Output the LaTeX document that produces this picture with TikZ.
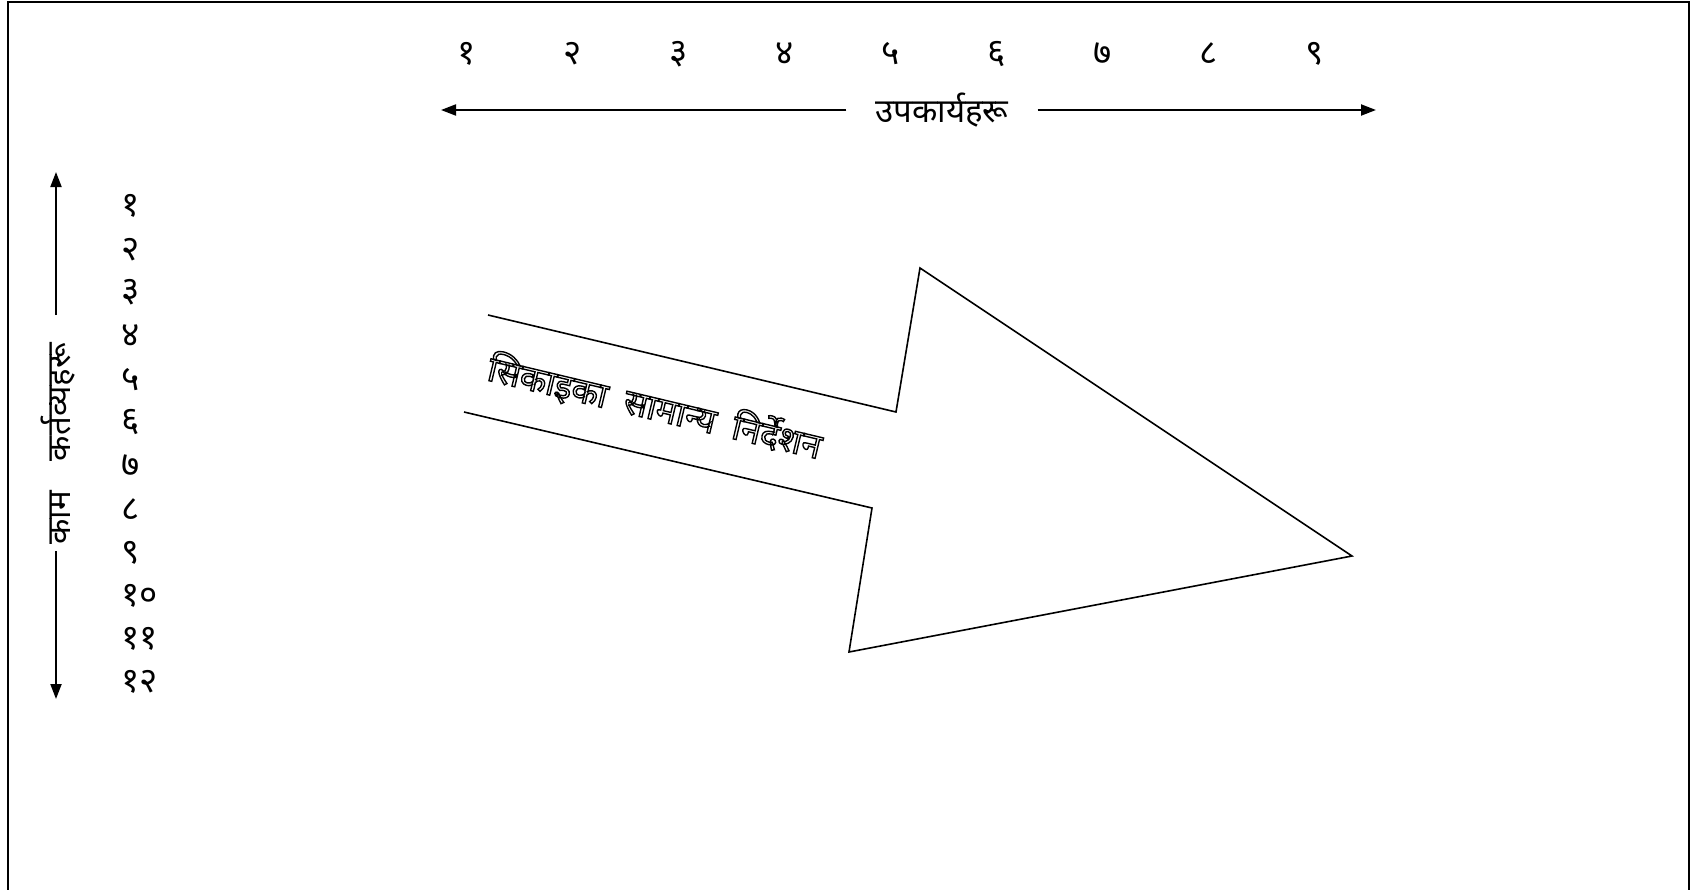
\documentclass[tikz,border=0pt]{standalone}
\usepackage{fontspec}
\newfontfamily\dev[Script=Devanagari]{Noto Sans}
\usetikzlibrary{arrows.meta}
\begin{document}
\begin{tikzpicture}[x=1pt,y=-1pt,
  lbl/.style={font=\dev\fontsize{35}{40}\selectfont, inner sep=0pt},
  title/.style={font=\dev\fontsize{33}{38}\selectfont, inner sep=0pt},
  axis/.style={line width=2pt, -{Triangle[length=15pt,width=11pt]}},
  bigarrow/.style={line width=1.6pt, line join=miter},
  frame/.style={line width=2.5pt}]
\useasboundingbox (0,0) rectangle (1692,889);
\fill[white] (0,0) rectangle (1692,889);
\begin{scope}
\clip (0,0) rectangle (1692,889);
\draw[frame] (8,2) rectangle (1689,920);
\end{scope}
% top numbers
\foreach \d [count=\i] in {१,२,३,४,५,६,७,८,९}
  \node[lbl] (t\i) at ({467+106*(\i-1)},54) {\d};
% horizontal axis
\node[title, inner xsep=29pt] (sub) at (942,110) {उपकार्यहरू};
\coordinate (hl) at (441,110);
\coordinate (hr) at (1376,110);
\draw[axis] (sub.west) -- (hl);
\draw[axis] (sub.east) -- (hr);
% vertical axis
\node[title, rotate=90] (duty) at (58,444) {काम\hspace{30pt}कर्तव्यहरू};
\coordinate (du) at (56,315);
\coordinate (dd) at (56,551);
\coordinate (vt) at (56,172);
\coordinate (vb) at (56,699);
\draw[axis] (du) -- (vt);
\draw[axis] (dd) -- (vb);
% left numbers
\foreach \d [count=\i] in {१,२,३,४,५,६,७,८,९,१०,११,१२}
  \node[lbl, anchor=west] (l\i) at (121,{206+43.3*(\i-1)}) {\d};
% big arrow
\coordinate (a1) at (488,315);
\coordinate (a2) at (896,412);
\coordinate (a3) at (920,268);
\coordinate (a4) at (1352,556);
\coordinate (a5) at (849,652);
\coordinate (a6) at (872,508);
\coordinate (a7) at (464,412);
\draw[bigarrow] (a1) -- (a2) -- (a3) -- (a4) -- (a5) -- (a6) -- (a7);
\node[font=\dev\fontsize{35}{40}\selectfont, rotate=-13.4, inner sep=0pt] (guide) at (655,407)
  {\special{pdf:literal direct 1 Tr 1.4 w}सिकाइका\hspace{18pt}सामान्य\hspace{18pt}निर्देशन\special{pdf:literal direct 0 Tr}};
\end{tikzpicture}
\end{document}
